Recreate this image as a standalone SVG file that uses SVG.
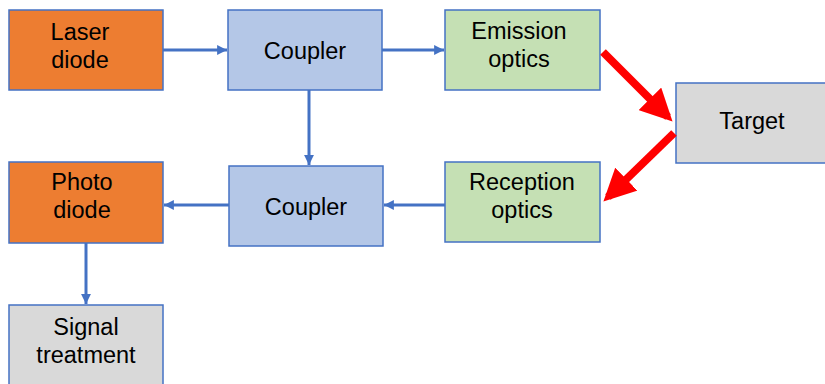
<svg xmlns="http://www.w3.org/2000/svg" width="825" height="384" viewBox="0 0 825 384">
<defs>
<style>
.box{stroke:#4472C4;stroke-width:1.5}
.or{fill:#ED7D31}.bl{fill:#B4C7E7}.gr{fill:#C5E0B4}.gy{fill:#D9D9D9}
text{font-family:"Liberation Sans",Arial,sans-serif;font-size:23.5px;fill:#000;text-anchor:middle}
.c{fill:none;stroke:#4472C4;stroke-width:3}
.r{fill:none;stroke:#FF0000;stroke-width:8}
</style>
<marker id="ab" viewBox="0 0 10 10" refX="10" refY="5" markerWidth="3.3" markerHeight="3.3" orient="auto" markerUnits="strokeWidth">
<path d="M0,0 L10,5 L0,10 Z" fill="#4472C4"/>
</marker>
<marker id="ar" viewBox="0 0 10 10" refX="8" refY="5" markerWidth="4" markerHeight="4" orient="auto" markerUnits="strokeWidth">
<path d="M0,0 L10,5 L0,10 Z" fill="#FF0000"/>
</marker>
</defs>
<rect width="825" height="384" fill="#fff"/>
<g id="laser"><rect class="box or" x="9" y="10" width="154" height="80"/><text x="80" y="40">Laser</text><text x="80" y="68">diode</text></g>
<g id="coupler1"><rect class="box bl" x="228" y="10" width="154" height="80"/><text x="305" y="59">Coupler</text></g>
<g id="emission"><rect class="box gr" x="445" y="10" width="155" height="80"/><text x="519" y="39">Emission</text><text x="519" y="67">optics</text></g>
<g id="target"><rect class="box gy" x="676" y="83" width="160" height="80"/><text x="752" y="129">Target</text></g>
<g id="reception"><rect class="box gr" x="445" y="162" width="155" height="80"/><text x="522" y="190">Reception</text><text x="522" y="218">optics</text></g>
<g id="coupler2"><rect class="box bl" x="229" y="166" width="154" height="80"/><text x="306" y="215">Coupler</text></g>
<g id="photo"><rect class="box or" x="9" y="162" width="154" height="81"/><text x="82" y="190">Photo</text><text x="82" y="218">diode</text></g>
<g id="signal"><rect class="box gy" x="9" y="305" width="154" height="90"/><text x="86" y="335">Signal</text><text x="86" y="363">treatment</text></g>
<g id="connectors">
<line class="c" x1="163" y1="50" x2="227" y2="50" marker-end="url(#ab)"/>
<line class="c" x1="382" y1="50" x2="444" y2="50" marker-end="url(#ab)"/>
<line class="c" x1="309" y1="90" x2="309" y2="165" marker-end="url(#ab)"/>
<line class="c" x1="445" y1="205" x2="384" y2="205" marker-end="url(#ab)"/>
<line class="c" x1="229" y1="205" x2="164" y2="205" marker-end="url(#ab)"/>
<line class="c" x1="86" y1="243" x2="86" y2="304" marker-end="url(#ab)"/>
<line class="r" x1="603" y1="52" x2="668" y2="117" marker-end="url(#ar)"/>
<line class="r" x1="674" y1="133" x2="608" y2="197" marker-end="url(#ar)"/>
</g>
</svg>
